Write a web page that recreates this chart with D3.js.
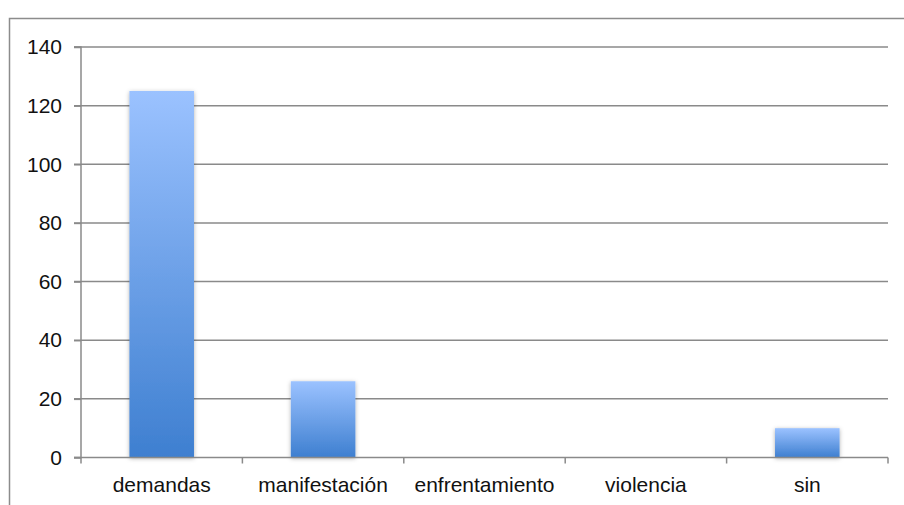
<!DOCTYPE html>
<html><head><meta charset="utf-8">
<script src="https://cdn.jsdelivr.net/npm/d3@7"></script>
<style>body{margin:0;background:#fff}svg{display:block}text{font-family:"Liberation Sans",Arial,sans-serif;fill:#111}</style>
</head><body><svg id="c" width="904" height="505"></svg>
<script>
const categories = ["demandas","manifestación","enfrentamiento","violencia","sin"];
const values = [125, 26, 0, 0, 10];
const yTicks = [0,20,40,60,80,100,120,140];

const svg = d3.select("#c");
const L = 81, R = 888, T = 47, B = 457.5;
const x = d3.scaleBand().domain(categories).range([L, R]).paddingInner(0.6).paddingOuter(0.3);
const xb = d3.scaleBand().domain(categories).range([L, R]);
const y = d3.scaleLinear().domain([0, 140]).range([B, T]);

// outer border
svg.append("rect").attr("x", 9.5).attr("y", 18.5).attr("width", 1000).attr("height", 1000)
  .attr("fill", "none").attr("stroke", "#8c8c8c").attr("stroke-width", 1.5);

const defs = svg.append("defs");
const g = defs.append("linearGradient").attr("id", "bg").attr("x1", 0).attr("y1", 0).attr("x2", 0).attr("y2", 1);
g.append("stop").attr("offset", "0%").attr("stop-color", "#9bc2ff");
g.append("stop").attr("offset", "100%").attr("stop-color", "#3e7fd0");
const f = defs.append("filter").attr("id", "sh").attr("x", "-20%").attr("y", "-20%").attr("width", "140%").attr("height", "140%");
f.append("feDropShadow").attr("dx", 0).attr("dy", 1).attr("stdDeviation", 2).attr("flood-color", "#000").attr("flood-opacity", 0.3);

// gridlines
svg.append("g").selectAll("line").data(yTicks.filter(d => d > 0)).join("line")
  .attr("x1", L - 7).attr("x2", R).attr("y1", d => y(d)).attr("y2", d => y(d))
  .attr("stroke", "#8a8a8a").attr("stroke-width", 1.5);

// y axis
const ya = svg.append("g").attr("transform", `translate(${L},0)`)
  .call(d3.axisLeft(y).tickValues(yTicks).tickSize(7).tickPadding(12));
ya.select(".domain").attr("stroke", "#8a8a8a").attr("stroke-width", 1.5).attr("d", `M-7,${T}H0V${B}H-7`);
ya.selectAll(".tick line").attr("stroke", "#8a8a8a").attr("stroke-width", 1.5);
ya.selectAll("text").style("font-size", "21px").attr("fill", "#111");

// bars
svg.append("g").selectAll("rect").data(categories.map((c, i) => ({c, v: values[i]})).filter(d => d.v > 0)).join("rect")
  .attr("x", d => x(d.c)).attr("width", x.bandwidth())
  .attr("y", d => y(d.v)).attr("height", d => B - y(d.v))
  .attr("fill", "url(#bg)").attr("filter", "url(#sh)");

// x axis
const xa = svg.append("g").attr("transform", `translate(0,${B})`)
  .call(d3.axisBottom(xb).tickSize(0).tickPadding(20));
xa.select(".domain").attr("stroke", "#8a8a8a").attr("stroke-width", 1.5).attr("d", `M${L - 7},0H${R}`);
xa.selectAll("text").style("font-size", "21px").attr("fill", "#111");
svg.append("g").selectAll("line").data(categories.concat(["__end"])).join("line")
  .attr("x1", (d, i) => L + i * xb.step()).attr("x2", (d, i) => L + i * xb.step())
  .attr("y1", B).attr("y2", B + 6).attr("stroke", "#8a8a8a").attr("stroke-width", 1.5);
</script></body></html>
